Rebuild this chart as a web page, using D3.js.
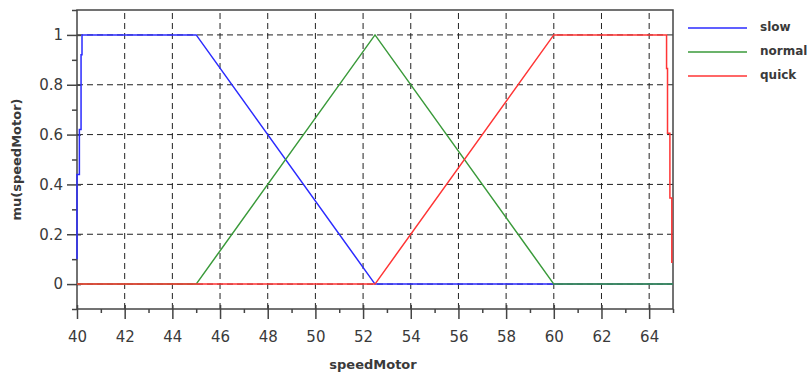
<!DOCTYPE html>
<html>
<head>
<meta charset="utf-8">
<script src="https://cdn.jsdelivr.net/npm/d3@7"></script>
<style>
  html, body { margin: 0; padding: 0; background: #fff; }
  svg { display: block; }
</style>
</head>
<body>
<svg id="chart" width="810" height="376"></svg>
<script>
// ---- data ----
const seriesNames = ["slow", "normal", "quick"];
const seriesColors = ["#2b2bff", "#3a9a3a", "#ff3535"];

const slowX = [40, 40, 40.1, 40.1, 40.17, 40.17, 40.21, 40.21, 45, 52.5, 65];
const slowY = [0.1, 0.44, 0.44, 0.62, 0.62, 0.92, 0.92, 1, 1, 0, 0];

const normalX = [40, 45, 52.5, 60, 65];
const normalY = [0, 0, 1, 0, 0];

const quickX = [40, 52.5, 60, 64.73, 64.73, 64.77, 64.77, 64.87, 64.87, 64.95, 64.95];
const quickY = [0, 0, 1, 1, 0.865, 0.865, 0.605, 0.605, 0.345, 0.345, 0.085];

const xMajorTicks = [40, 42, 44, 46, 48, 50, 52, 54, 56, 58, 60, 62, 64];
const xMinorTicks = [41, 43, 45, 47, 49, 51, 53, 55, 57, 59, 61, 63, 65];
const yMajorTicks = [0, 0.2, 0.4, 0.6, 0.8, 1];
const yMinorTicks = [-0.1, 0.1, 0.3, 0.5, 0.7, 0.9, 1.1];
const yTickLabels = ["0", "0.2", "0.4", "0.6", "0.8", "1"];

const xTitle = "speedMotor";
const yTitle = "mu(speedMotor)";

// ---- layout ----
const L = 77, R = 673, T = 10, B = 309;
const svg = d3.select("#chart");
const x = d3.scaleLinear().domain([40, 65]).range([L, R]);
const y = d3.scaleLinear().domain([-0.1, 1.1]).range([B, T]);

const axisColor = "#444";
const textColor = "#3a3a3a";

// grid
const grid = svg.append("g").attr("stroke", "#222").attr("stroke-width", 1)
  .attr("stroke-dasharray", "6,4").attr("fill", "none");
grid.selectAll("line.gx").data(xMajorTicks.filter(d => d > 40)).join("line")
  .attr("x1", d => x(d)).attr("x2", d => x(d))
  .attr("y1", B).attr("y2", T);
grid.selectAll("line.gy").data(yMajorTicks).join("line")
  .attr("x1", L).attr("x2", R)
  .attr("y1", d => y(d)).attr("y2", d => y(d));

// frame
svg.append("rect").attr("x", L).attr("y", T).attr("width", R - L).attr("height", B - T)
  .attr("fill", "none").attr("stroke", axisColor).attr("stroke-width", 1.5);

// bottom axis
const xAxis = d3.axisBottom(x).tickValues(xMajorTicks).tickSizeInner(10).tickSizeOuter(0)
  .tickPadding(12).tickFormat(d3.format("d"));
const gx = svg.append("g").attr("transform", `translate(0,${B})`).call(xAxis);
gx.select(".domain").remove();
gx.selectAll(".tick line").attr("stroke", axisColor).attr("stroke-width", 1.5).attr("y1", -4);
gx.selectAll(".tick text").attr("fill", textColor).style("font", "15px 'DejaVu Sans'");
const gxm = svg.append("g").attr("transform", `translate(0,${B})`)
  .call(d3.axisBottom(x).tickValues(xMinorTicks).tickSize(4).tickFormat(""));
gxm.select(".domain").remove();
gxm.selectAll(".tick line").attr("stroke", axisColor).attr("stroke-width", 1.5);

// left axis
const yAxis = d3.axisLeft(y).tickValues(yMajorTicks).tickSizeInner(10).tickSizeOuter(0)
  .tickPadding(4).tickFormat((d, i) => yTickLabels[i]);
const gy = svg.append("g").attr("transform", `translate(${L},0)`).call(yAxis);
gy.select(".domain").remove();
gy.selectAll(".tick line").attr("stroke", axisColor).attr("stroke-width", 1.5).attr("x1", 4);
gy.selectAll(".tick text").attr("fill", textColor).style("font", "15px 'DejaVu Sans'");
const gym = svg.append("g").attr("transform", `translate(${L},0)`)
  .call(d3.axisLeft(y).tickValues(yMinorTicks).tickSize(5).tickFormat(""));
gym.select(".domain").remove();
gym.selectAll(".tick line").attr("stroke", axisColor).attr("stroke-width", 1.5);

// series (drawn over the frame, as in the reference)
const seriesData = [
  d3.zip(slowX, slowY),
  d3.zip(normalX, normalY),
  d3.zip(quickX, quickY)
];
const line = d3.line().x(d => x(d[0])).y(d => y(d[1]));
svg.append("g").selectAll("path").data(seriesData).join("path")
  .attr("d", line)
  .attr("fill", "none")
  .attr("stroke", (d, i) => seriesColors[i])
  .attr("stroke-width", 1.5);

// axis titles
svg.append("text").attr("x", (L + R) / 2 - 2).attr("y", 369)
  .attr("text-anchor", "middle").attr("fill", textColor)
  .style("font", "bold 13px 'DejaVu Sans'").text(xTitle);
svg.append("text").attr("transform", `translate(21,${(T + B) / 2}) rotate(-90)`)
  .attr("text-anchor", "middle").attr("fill", textColor)
  .style("font", "bold 13px 'DejaVu Sans'").text(yTitle);

// legend
const legendY = [28, 52, 76];
const lg = svg.append("g");
seriesNames.forEach((name, i) => {
  lg.append("line").attr("x1", 688).attr("x2", 747)
    .attr("y1", legendY[i]).attr("y2", legendY[i])
    .attr("stroke", seriesColors[i]).attr("stroke-width", 1.5);
  lg.append("text").attr("x", 760).attr("y", legendY[i] - 1)
    .attr("dominant-baseline", "central").attr("fill", textColor)
    .style("font", "bold 12px 'DejaVu Sans'").text(name);
});
</script>
</body>
</html>
